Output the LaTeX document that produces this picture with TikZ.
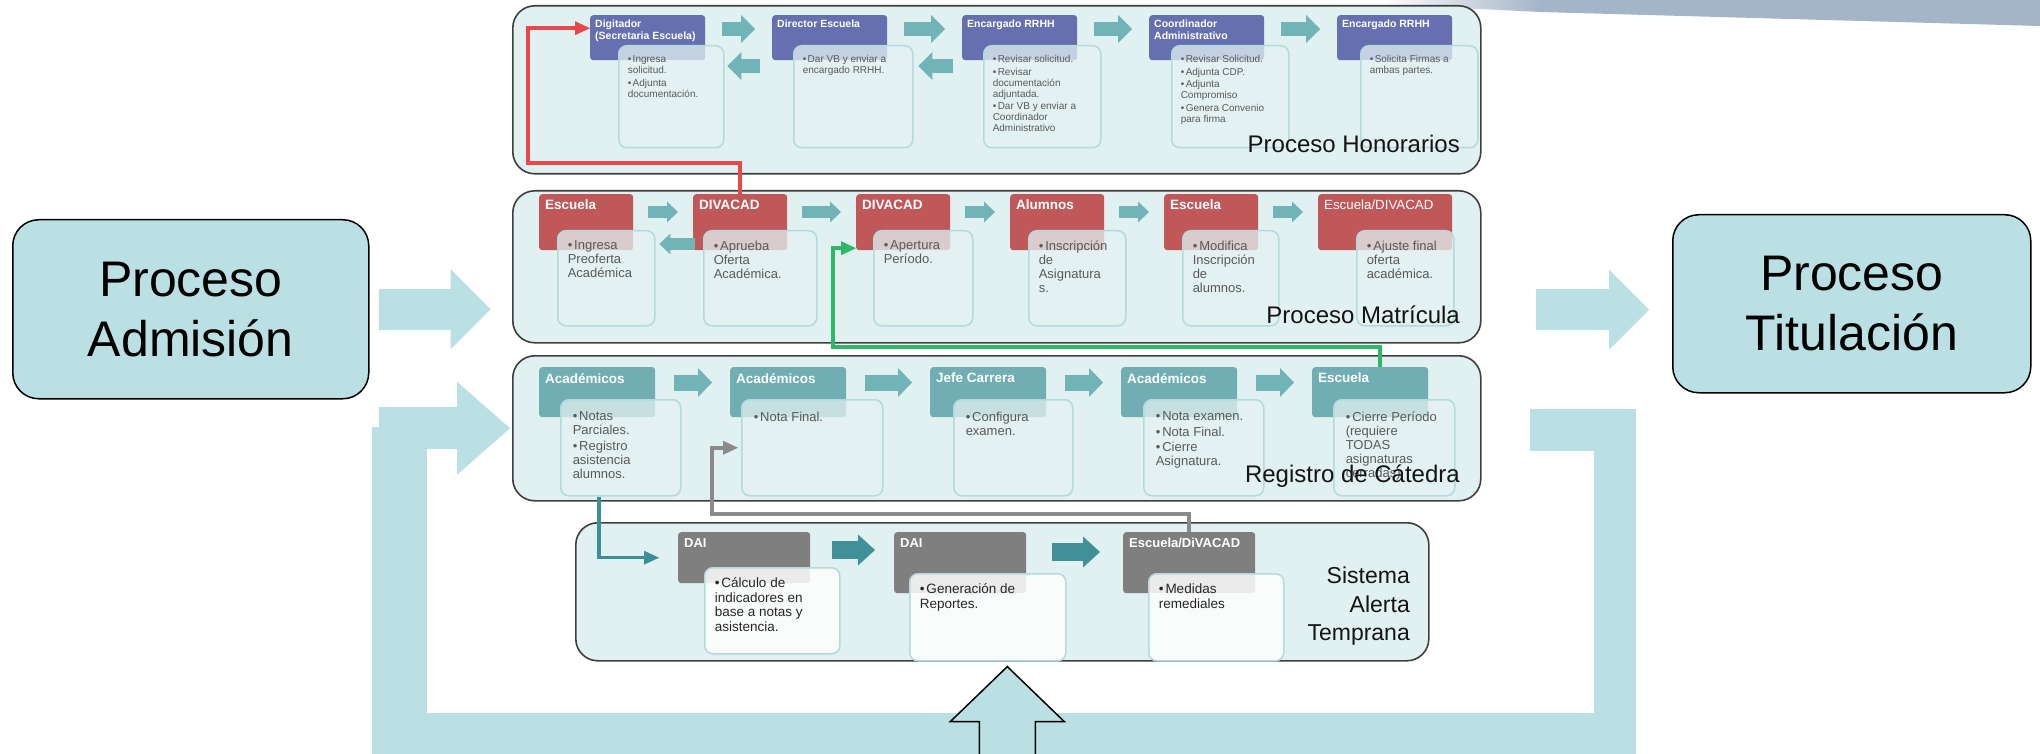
\documentclass[tikz,border=0pt]{standalone}
\usepackage{fontspec}
\setmainfont{Liberation Sans}
\usetikzlibrary{arrows.meta}

\definecolor{lblue}{HTML}{BBE0E3}
\definecolor{pfill}{HTML}{E1F0F1}
\definecolor{pline}{HTML}{3F3F3F}
\definecolor{bline}{HTML}{B3DADD}
\definecolor{bfill}{HTML}{E4F2F3}
\definecolor{btext}{HTML}{5A5A5A}
\definecolor{purp}{HTML}{6670B0}
\definecolor{redh}{HTML}{C0585A}
\definecolor{tealh}{HTML}{70AEB3}
\definecolor{greyh}{HTML}{7F7F7F}
\definecolor{sarrow}{HTML}{71B4B8}
\definecolor{darrow}{HTML}{3F9099}
\definecolor{redline}{HTML}{E8484B}
\definecolor{greenline}{HTML}{2DB866}
\definecolor{greyline}{HTML}{8A8A8A}
\definecolor{tealline}{HTML}{3A8E98}
\definecolor{band}{HTML}{A5B5C8}

% caja de texto alineada arriba
\newcommand{\tb}[3]{\parbox[b][#2][t]{#1}{\raggedright\setlength{\parskip}{1.5pt}#3}}
\newcommand{\itm}[1]{\par\hangindent=0.5em\hangafter=1\noindent\makebox[0.5em][l]{\textbullet}#1}

\begin{document}
\begin{tikzpicture}[x=1pt,y=-1pt,
    panel/.style={draw=pline, line width=1.6pt, fill=pfill, rounded corners=22pt, anchor=north west, inner sep=0pt},
    bigbox/.style={draw=black, line width=1.5pt, fill=lblue, rounded corners=26pt, anchor=north west, align=center, font=\fontsize{50}{60}\selectfont},
    plabel/.style={inner sep=0pt, text=black!92, font=\fontsize{24}{28}\selectfont},
    hd/.style={rounded corners=3pt, anchor=north west, text=white},
    hdA/.style={hd, fill=purp, inner sep=5pt, font=\bfseries\fontsize{10.5}{12}\selectfont},
    hdB/.style={hd, fill=redh, inner sep=6pt, font=\bfseries\fontsize{13.5}{15}\selectfont},
    hdC/.style={hd, fill=tealh, inner sep=6pt, font=\bfseries\fontsize{13.5}{15}\selectfont},
    hdD/.style={hd, fill=greyh, inner sep=6pt, font=\bfseries\fontsize{13}{15}\selectfont},
    tx/.style={draw=bline, line width=1.5pt, fill=bfill, fill opacity=0.75, text opacity=1, rounded corners=8pt, anchor=north west, text=btext},
    txA/.style={tx, inner xsep=9pt, inner ysep=10pt, font=\fontsize{10}{11}\selectfont},
    txB/.style={tx, inner sep=10pt, font=\fontsize{13}{14}\selectfont},
    txC/.style={tx, inner sep=12pt, font=\fontsize{13}{14}\selectfont},
    txD/.style={tx, fill=white, fill opacity=0.85, text=black!85, inner sep=10pt, font=\fontsize{13.5}{14.5}\selectfont},
    blk/.style n args={3}{line width=#1, -{Triangle[width=#2, length=#3, line width=0pt]}},
    arrA/.style={draw=sarrow, blk={14pt}{28pt}{14pt}},
    arrB/.style={draw=sarrow, blk={12pt}{21pt}{11pt}},
    arrC/.style={draw=sarrow, blk={16pt}{29pt}{14pt}},
    arrD/.style={draw=darrow, blk={18pt}{31pt}{17pt}},
    big/.style={draw=lblue, blk={41pt}{80pt}{40pt}},
    lnk/.style={line width=#1, -{Triangle[length=15pt, width=14pt, line width=0pt]}},
  ]
  \fill[white] (0,0) rectangle (2040,754);
  \useasboundingbox (0,0) rectangle (2040,754);
  \shade[left color=white, right color=band] (1380,0) -- (1540,0) -- (1540,12) -- (1380,4) -- cycle;
  \fill[band] (1540,0) -- (2040,0) -- (2040,26) -- (1540,12) -- cycle;

  % paneles
  \node[panel, minimum width=968pt, minimum height=168pt] (hon) at (512,5) {};
  \node[panel, minimum width=968pt, minimum height=152pt] (mat) at (512,190) {};
  \node[panel, minimum width=968pt, minimum height=145pt] (cat) at (512,355) {};
  \node[panel, minimum width=853pt, minimum height=138pt] (sat) at (575,522) {};

  % Proceso Honorarios
  \node[hdA] (h11) at (590,15) {\tb{105pt}{35pt}{Digitador\\(Secretaria Escuela)}};
  \node[hdA] (h12) at (772,15) {\tb{105pt}{35pt}{Director Escuela}};
  \node[hdA] (h13) at (962,15) {\tb{105pt}{35pt}{Encargado RRHH}};
  \node[hdA] (h14) at (1149,15) {\tb{105pt}{35pt}{Coordinador\\Administrativo}};
  \node[hdA] (h15) at (1337,15) {\tb{105pt}{35pt}{Encargado RRHH}};
  \node[txA] (b11) at (618,45) {\tb{87pt}{82pt}{\itm{Ingresa\\solicitud.}\itm{Adjunta\\documentación.}}};
  \node[txA] (b12) at (793,45) {\tb{101pt}{82pt}{\itm{Dar VB y enviar a\\encargado RRHH.}}};
  \node[txA] (b13) at (983,45) {\tb{99pt}{82pt}{\itm{Revisar solicitud.}\itm{Revisar\\documentación\\adjuntada.}\itm{Dar VB y enviar a\\Coordinador\\Administrativo}}};
  \node[txA] (b14) at (1171,45) {\tb{99pt}{82pt}{\itm{Revisar Solicitud.}\itm{Adjunta CDP.}\itm{Adjunta\\Compromiso}\itm{Genera Convenio\\para firma}}};
  \node[txA] (b15) at (1360,45) {\tb{99pt}{82pt}{\itm{Solicita Firmas a\\ambas partes.}}};
  \foreach \p/\q in {h11/h12,h12/h13,h13/h14,h14/h15}
    \draw[arrA] ([shift={(17,14)}]\p.north east) -- ([shift={(-17,14)}]\q.north west);
  \draw[arrA] ([shift={(-12,51)}]h12.north west) -- ([shift={(22,51)}]h11.north east);
  \draw[arrA] ([shift={(-9,51)}]h13.north west) -- ([shift={(31,51)}]h12.north east);

  % Proceso Matricula
  \node[hdB] (h21) at (539,194) {\tb{82pt}{44pt}{Escuela}};
  \node[hdB] (h22) at (693,194) {\tb{82pt}{44pt}{DIVACAD}};
  \node[hdB] (h23) at (856,194) {\tb{82pt}{44pt}{DIVACAD}};
  \node[hdB] (h24) at (1010,194) {\tb{82pt}{44pt}{Alumnos}};
  \node[hdB] (h25) at (1164,194) {\tb{82pt}{44pt}{Escuela}};
  \node[hdB, font=\fontsize{13.3}{15}\selectfont] (h26) at (1318,194) {\tb{122pt}{44pt}{Escuela/DIVACAD}};
  \node[txB] (b21) at (557,230) {\tb{77pt}{75pt}{\itm{Ingresa\\Preoferta\\Académica}}};
  \node[txB] (b22) at (703,230) {\tb{93pt}{75pt}{\itm{Aprueba\\Oferta\\Académica.}}};
  \node[txB] (b23) at (873,230) {\tb{79pt}{75pt}{\itm{Apertura\\Período.}}};
  \node[txB] (b24) at (1028,230) {\tb{77pt}{75pt}{\itm{Inscripción\\de\\Asignatura\\s.}}};
  \node[txB] (b25) at (1182,230) {\tb{76pt}{75pt}{\itm{Modifica\\Inscripción\\de\\alumnos.}}};
  \node[txB] (b26) at (1356,230) {\tb{77pt}{75pt}{\itm{Ajuste final\\oferta\\académica.}}};
  \foreach \p/\q in {h21/h22,h22/h23,h23/h24,h24/h25,h25/h26}
    \draw[arrB] ([shift={(15,18)}]\p.north east) -- ([shift={(-15,18)}]\q.north west);
  \draw[arrB] ([shift={(2,50)}]h22.north west) -- ([shift={(26,50)}]h21.north east);

  % Registro de Catedra
  \node[hdC] (h31) at (539,367) {\tb{104pt}{38pt}{Académicos}};
  \node[hdC] (h32) at (730,367) {\tb{104pt}{38pt}{Académicos}};
  \node[hdC] (h33) at (930,367) {\tb{104pt}{38pt}{Jefe Carrera}};
  \node[hdC] (h34) at (1121,367) {\tb{104pt}{38pt}{Académicos}};
  \node[hdC] (h35) at (1312,367) {\tb{104pt}{38pt}{Escuela}};
  \node[txC] (b31) at (560,399) {\tb{96pt}{72pt}{\itm{Notas\\Parciales.}\itm{Registro\\asistencia\\alumnos.}}};
  \node[txC] (b32) at (741,399) {\tb{117pt}{72pt}{\itm{Nota Final.}}};
  \node[txC] (b33) at (953,399) {\tb{95pt}{72pt}{\itm{Configura\\examen.}}};
  \node[txC] (b34) at (1143,399) {\tb{96pt}{72pt}{\itm{Nota examen.}\itm{Nota Final.}\itm{Cierre\\Asignatura.}}};
  \node[txC] (b35) at (1333,399) {\tb{97pt}{72pt}{\itm{\mbox{Cierre Período}\\(requiere\\TODAS\\asignaturas\\cerradas)}}};
  \foreach \p/\q in {h31/h32,h32/h33,h33/h34,h34/h35}
    \draw[arrC] ([shift={(19,15.5)}]\p.north east) -- ([shift={(-18,15.5)}]\q.north west);

  % Sistema Alerta Temprana
  \node[hdD] (h41) at (678,532) {\tb{120pt}{39pt}{DAI}};
  \node[hdD] (h42) at (894,532) {\tb{120pt}{49pt}{DAI}};
  \node[hdD] (h43) at (1123,532) {\tb{120pt}{49pt}{Escuela/DiVACAD}};
  \node[txD] (b41) at (704,567) {\tb{115pt}{66pt}{\itm{Cálculo de\\indicadores en\\base a notas y\\asistencia.}}};
  \node[txD] (b42) at (909,573) {\tb{136pt}{67pt}{\itm{Generación de\\Reportes.}}};
  \node[txD] (b43) at (1148,573) {\tb{115pt}{67pt}{\itm{Medidas\\remediales}}};
  \draw[arrD] ([shift={(22,18)}]h41.north east) -- ([shift={(-19,18)}]h42.north west);
  \draw[arrD] ([shift={(26,20)}]h42.north east) -- ([shift={(-23,20)}]h43.north west);

  % enlaces entre procesos
  \draw[lnk=4pt, draw=redline] (h22.north) |- (528,163) |- ([yshift=9.5pt]h11.west);
  \draw[lnk=3.5pt, draw=greenline] ([xshift=10pt]h35.north) |- (833,347) |- ([yshift=-26pt]h23.west);
  \draw[lnk=4pt, draw=greyline, shorten >=3pt] (h43.north) |- (712,514) |- (b32.west);
  \draw[lnk=3.5pt, draw=tealline, shorten >=19pt] ([xshift=-22pt]b31.south) |- (h41.west);

  % nombres de los paneles
  \node[plabel, anchor=base east] (lhon) at (1460,153) {Proceso Honorarios};
  \node[plabel, anchor=base east] (lmat) at (1460,323) {Proceso Matrícula};
  \node[plabel, anchor=base east] (lcat) at (1460,482) {Registro de Cátedra};
  \node[plabel, font=\fontsize{23}{28.5}\selectfont, align=right, anchor=north east] (lsat) at (1410,567) {Sistema\\Alerta\\Temprana};

  % procesos externos
  \node[bigbox, minimum width=356pt, minimum height=179pt] (adm) at (12,219) {Proceso\\Admisión};
  \node[bigbox, minimum width=358pt, minimum height=178pt] (tit) at (1672,214) {Proceso\\Titulación};
  \draw[big] ([xshift=9pt]adm.east) -- ++(112,0);
  \draw[big] ([shift={(-136,6)}]tit.west) -- ([shift={(-23,6)}]tit.west);

  % ciclo de retroalimentacion
  \coordinate (lp) at (1530,430);
  \fill[lblue] (372,427) rectangle (427,760);
  \draw[big, line width=42pt, -{Triangle[width=93pt, length=53pt, line width=0pt]}]
    (lp) -- (1614.5,430) -- (1614.5,734) -- (400,734) |- ([xshift=-2pt]cat.west);
  \draw[fill=lblue, draw=black, line width=1.5pt] ([shift={(5,5)}]sat.south) -- ++(57,55) -- ++(-29,0)
    -- ++(0,45) -- ++(-56,0) -- ++(0,-45) -- ++(-29,0) -- cycle;
\end{tikzpicture}
\end{document}
